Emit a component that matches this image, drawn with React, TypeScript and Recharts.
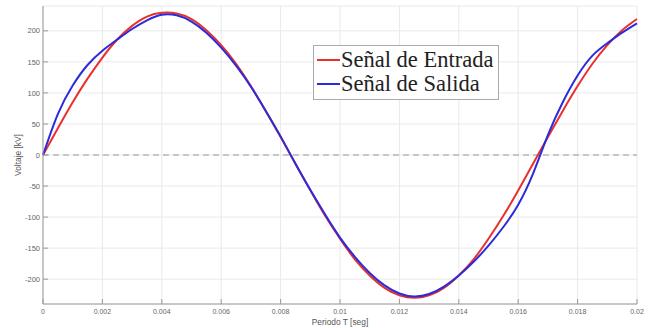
import React from 'react';
import {
  LineChart,
  Line,
  XAxis,
  YAxis,
  CartesianGrid,
  ReferenceLine,
  Legend,
  Label
} from 'recharts';

// tiempo [s], cada 0.5 ms
const tiempo = [
  0, 0.0005, 0.001, 0.0015, 0.002, 0.0025, 0.003, 0.0035, 0.004, 0.0045,
  0.005, 0.0055, 0.006, 0.0065, 0.007, 0.0075, 0.008, 0.0085, 0.009, 0.0095,
  0.01, 0.0105, 0.011, 0.0115, 0.012, 0.0125, 0.013, 0.0135, 0.014, 0.0145,
  0.015, 0.0155, 0.016, 0.0165, 0.017, 0.0175, 0.018, 0.0185, 0.019, 0.0195,
  0.02
];

// señal de entrada [kV]
const entrada = [
  0, 43, 85, 123, 157, 186, 208, 223, 229, 228,
  219, 201, 177, 147, 111, 71, 29, -14, -57, -98,
  -135, -168, -194, -214, -226, -230, -226, -214, -194, -168,
  -135, -98, -57, -14, 29, 71, 111, 147, 177, 201,
  219
];

// señal de salida [kV]
const salida = [
  0, 66, 112, 145, 168, 186, 203, 217, 226, 225,
  215, 197, 173, 144, 110, 71, 30, -14, -56, -96,
  -133, -164, -190, -210, -223, -228, -224, -212, -194, -172,
  -146, -116, -80, -30, 32, 85, 128, 160, 180, 197,
  212
];

const xTicks = [0, 0.002, 0.004, 0.006, 0.008, 0.01, 0.012, 0.014, 0.016, 0.018, 0.02];
const yTicks = [-200, -150, -100, -50, 0, 50, 100, 150, 200];

const data = tiempo.map((t, i) => ({ t, entrada: entrada[i], salida: salida[i] }));

const AXIS = '#9a9a9a';
const TEXT = '#666';

const XTick = (props: any) => {
  const { x, y, payload } = props;
  return (
    <g>
      <line x1={x} x2={x} y1={y} y2={y - 5} stroke={AXIS} />
      <text x={x} y={y + 9.5} textAnchor="middle" fontSize={7} fill={TEXT} fontFamily="Liberation Sans, Arial, sans-serif">
        {payload.value}
      </text>
    </g>
  );
};

const YTick = (props: any) => {
  const { x, y, payload } = props;
  return (
    <g>
      <line x1={x} x2={x + 5} y1={y} y2={y} stroke={AXIS} />
      <text x={x - 3} y={y} dy="0.35em" textAnchor="end" fontSize={7.5} fill={TEXT} fontFamily="Liberation Sans, Arial, sans-serif">
        {payload.value}
      </text>
    </g>
  );
};

const renderLegend = (props: any) => {
  const { payload } = props;
  return (
    <div
      style={{
        display: 'inline-block',
        background: '#fff',
        border: '1px solid #aaa',
        padding: '2px 5px 3px 3px',
        fontFamily: '"Liberation Serif", "Times New Roman", serif',
        fontSize: 22.5,
        lineHeight: '24px',
        color: '#222'
      }}
    >
      {payload.map((entry: any) => (
        <div key={entry.value} style={{ display: 'flex', alignItems: 'center', whiteSpace: 'nowrap' }}>
          <span style={{ display: 'inline-block', width: 23, height: 2, background: entry.color, marginRight: 1 }} />
          <span>{entry.value}</span>
        </div>
      ))}
    </div>
  );
};

const App: React.FC = () => {
  return (
    <div style={{ position: 'absolute', left: 0, top: 0, width: 650, height: 328, background: '#fff' }}>
      <LineChart width={650} height={328} data={data} margin={{ top: 6, right: 13, bottom: 0, left: 7 }}>
        <CartesianGrid stroke="#e9e9e9" />
        <XAxis
          dataKey="t"
          type="number"
          domain={[0, 0.02]}
          ticks={xTicks}
          height={24}
          tickSize={0}
          tickMargin={0}
          tick={<XTick />}
          stroke={AXIS}
          interval={0}
        >
          <Label
            content={({ viewBox }: any) => (
              <text
                x={viewBox.x + viewBox.width / 2}
                y={viewBox.y + 21}
                textAnchor="middle"
                fontSize={8.4}
                fill="#555"
                fontFamily="Liberation Sans, Arial, sans-serif"
              >
                Periodo T [seg]
              </text>
            )}
          />
        </XAxis>
        <YAxis
          type="number"
          domain={[-240, 240]}
          ticks={yTicks}
          width={36}
          tickSize={0}
          tickMargin={0}
          tick={<YTick />}
          stroke={AXIS}
          allowDataOverflow
          interval={0}
        >
          <Label
            content={({ viewBox }: any) => {
              const cx = viewBox.x + 11;
              const cy = viewBox.y + viewBox.height / 2;
              return (
                <text
                  x={cx}
                  y={cy}
                  transform={`rotate(-90, ${cx}, ${cy})`}
                  textAnchor="middle"
                  dominantBaseline="central"
                  fontSize={8.4}
                  fill="#555"
                  fontFamily="Liberation Sans, Arial, sans-serif"
                >
                  Voltaje [kV]
                </text>
              );
            }}
          />
        </YAxis>
        <ReferenceLine y={0} stroke="#999" strokeDasharray="6 4" />
        <Line
          type="natural"
          dataKey="entrada"
          name="Señal de Entrada"
          stroke="#e8302c"
          strokeWidth={2}
          dot={false}
          isAnimationActive={false}
        />
        <Line
          type="natural"
          dataKey="salida"
          name="Señal de Salida"
          stroke="#2b2bdc"
          strokeWidth={2}
          dot={false}
          isAnimationActive={false}
        />
        <Legend
          layout="horizontal"
          verticalAlign="middle"
          align="center"
          content={renderLegend}
          wrapperStyle={{ left: 313, top: 45, width: 'auto' }}
        />
      </LineChart>
    </div>
  );
};

export default App;
